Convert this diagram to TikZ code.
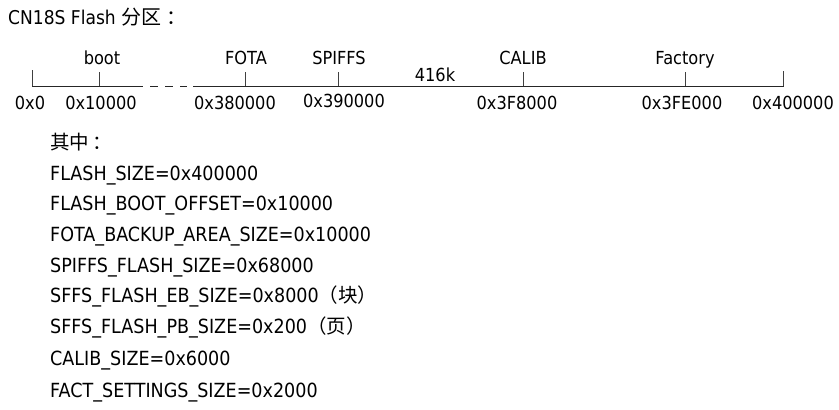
\documentclass[tikz,border=0pt]{standalone}
\usepackage{fontspec}
\setmainfont{DejaVu Sans}[FakeStretch=0.9]
\newfontfamily\cjk{Noto Sans CJK SC}
\begin{document}
\begin{tikzpicture}[x=1pt,y=-1pt,
  lbl/.style={anchor=base,inner sep=0pt,font=\fontsize{18}{20}\selectfont},
  txt/.style={anchor=base west,inner sep=0pt,font=\fontsize{19.5}{24}\selectfont},
  axis/.style={line width=1pt,black!85},
  tick/.style={line width=1pt,black!75}]
\useasboundingbox (0,0) rectangle (839,410);
% title
\node[txt,font=\fontsize{19}{22}\selectfont] (title) at (8,24) {CN18S Flash {\cjk\fontsize{20}{22}\selectfont 分区\kern5pt：}};
% axis coordinates
\coordinate (a0) at (32,86);
\coordinate (a1) at (143,86);
\coordinate (d0) at (150,86);
\coordinate (d1) at (187,86);
\coordinate (b0) at (193,86);
\coordinate (b1) at (784,86);
\draw[axis] (a0) -- (a1);
\draw[axis,dash pattern=on 8pt off 7pt] (d0) -- (d1);
\draw[axis] (b0) -- (b1);
% ticks
\coordinate (t0) at (32,70);
\coordinate (t1) at (99,72);
\coordinate (t1b) at (99,86);
\coordinate (t2) at (245,72);
\coordinate (t2b) at (245,86);
\coordinate (t3) at (338,72);
\coordinate (t3b) at (338,86);
\coordinate (t4) at (523,72);
\coordinate (t4b) at (523,86);
\coordinate (t5) at (685,72);
\coordinate (t5b) at (685,86);
\coordinate (t6) at (783,71);
\coordinate (t6b) at (783,86);
\draw[tick] (t0) -- (a0);
\draw[tick] (t1) -- (t1b);
\draw[tick] (t2) -- (t2b);
\draw[tick] (t3) -- (t3b);
\draw[tick] (t4) -- (t4b);
\draw[tick] (t5) -- (t5b);
\draw[tick] (t6) -- (t6b);
% upper labels
\node[lbl] (boot) at (102,64) {boot};
\node[lbl] (fota) at (246,64) {FOTA};
\node[lbl] (spiffs) at (339,64) {SPIFFS};
\node[lbl] (k416) at (435,81) {416k};
\node[lbl] (calib) at (523,64) {CALIB};
\node[lbl] (fact) at (685,64) {Factory};
% lower labels
\node[lbl] (l0) at (30,109) {0x0};
\node[lbl] (l1) at (101,109) {0x10000};
\node[lbl] (l2) at (235,109) {0x380000};
\node[lbl] (l3) at (344,107) {0x390000};
\node[lbl] (l4) at (517,109) {0x3F8000};
\node[lbl] (l5) at (682,109) {0x3FE000};
\node[lbl] (l6) at (793,109) {0x400000};
% list
\node[txt] (q0) at (50,149) {\cjk 其中\kern3pt：};
\node[txt] (q1) at (50,180) {FLASH\_SIZE=0x400000};
\node[txt] (q2) at (50,210) {FLASH\_BOOT\_OFFSET=0x10000};
\node[txt] (q3) at (50,241) {FOTA\_BACKUP\_AREA\_SIZE=0x10000};
\node[txt] (q4) at (50,272) {SPIFFS\_FLASH\_SIZE=0x68000};
\node[txt] (q5) at (50,302) {SFFS\_FLASH\_EB\_SIZE=0x8000{\cjk （块）}};
\node[txt] (q6) at (50,333) {SFFS\_FLASH\_PB\_SIZE=0x200{\cjk （页）}};
\node[txt] (q7) at (50,365) {CALIB\_SIZE=0x6000};
\node[txt] (q8) at (50,397) {FACT\_SETTINGS\_SIZE=0x2000};
\end{tikzpicture}
\end{document}
